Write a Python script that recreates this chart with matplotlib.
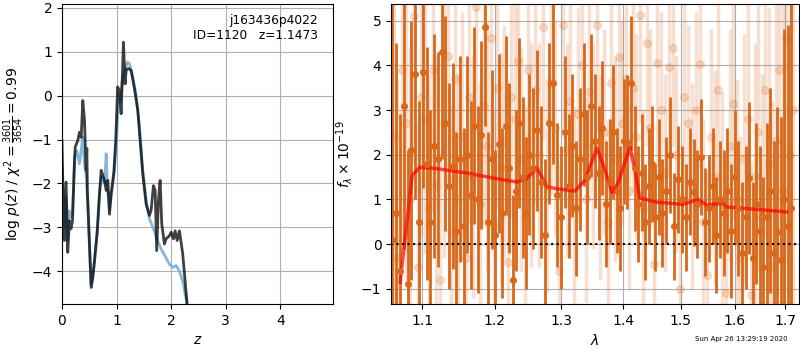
import numpy as np
import matplotlib
matplotlib.use('Agg')
import matplotlib.pyplot as plt
from matplotlib.ticker import FixedLocator, FixedFormatter, NullLocator

# redshift probability (left panel)
z_fit = [0.0, 0.005, 0.045, 0.075, 0.105, 0.137, 0.167, 0.192, 0.23, 0.242, 0.29, 0.32, 0.352,
         0.381, 0.412, 0.443, 0.455, 0.466, 0.535, 0.565, 0.596, 0.645, 0.687, 0.718, 0.778,
         0.81, 0.84, 0.87, 0.9, 0.95, 0.985, 1.02, 1.05, 1.084, 1.126, 1.157, 1.176, 1.218,
         1.267, 1.328, 1.389, 1.48, 1.542, 1.603, 1.634, 1.676, 1.707, 1.736, 1.767, 1.798,
         1.828, 1.877, 1.908, 1.969, 2.0, 2.042, 2.073, 2.11, 2.152, 2.212, 2.293, 2.32]
logp_fit = [-1.02, -1.48, -3.3, -1.97, -3.57, -2.85, -3.03, -2.85, -1.48, -1.17, -1.02, -0.83, -0.95,
            -0.11, -0.56, -1.7, -1.2, -2.2, -4.37, -4.14, -3.76, -3.11, -2.24, -1.7, -1.93,
            -2.16, -1.93, -2.7, -2.24, -1.75, -1.0, 0.2, 0.12, -0.41, 1.22, 0.27, 0.58, 0.62,
            0.58, 0.16, -0.34, -1.78, -2.47, -2.73, -2.6, -2.05, -2.16, -3.53, -2.39, -1.93,
            -2.92, -3.38, -3.26, -3.19, -3.11, -3.26, -3.08, -3.3, -3.08, -3.6, -4.75, -5.3]

z_prior = [0.0, 0.03, 0.07, 0.1, 0.13, 0.16, 0.19, 0.23, 0.27, 0.32, 0.38, 0.41, 0.44, 0.47,
           0.53, 0.56, 0.6, 0.65, 0.69, 0.72, 0.78, 0.81, 0.83, 0.87, 0.9, 0.96, 1.0, 1.03,
           1.07, 1.1, 1.15, 1.2, 1.24, 1.3, 1.36, 1.42, 1.48, 1.55, 1.6, 1.65, 1.7, 1.75,
           1.82, 1.97, 2.03, 2.09, 2.15, 2.21, 2.28, 2.31]
logp_prior = [-1.3, -3.0, -2.3, -3.3, -2.62, -2.77, -2.7, -1.4, -1.25, -1.55, -0.95, -1.55, -1.8, -2.4,
              -4.3, -4.15, -3.7, -3.0, -2.2, -1.85, -2.0, -1.32, -2.1, -2.6, -2.3, -1.7, -1.0, -0.2,
              -0.1, 0.3, 0.55, 0.77, 0.72, 0.4, 0.0, -0.7, -1.7, -2.45, -2.8, -2.95, -3.11, -3.3,
              -3.5, -3.84, -3.91, -3.87, -3.99, -4.22, -4.67, -5.2]

# 1D spectrum (right panel), flux in 1e-19
wave_a = [1.061, 1.066, 1.071, 1.076, 1.081, 1.086, 1.091, 1.096, 1.101, 1.106,
          1.111, 1.116, 1.121, 1.126, 1.131, 1.136, 1.141, 1.146, 1.151, 1.156,
          1.161, 1.166, 1.171, 1.176, 1.181, 1.186, 1.191, 1.196, 1.201, 1.206,
          1.211, 1.216, 1.221, 1.226, 1.231, 1.236, 1.241, 1.246, 1.251, 1.257,
          1.263, 1.269, 1.275, 1.281, 1.287, 1.293, 1.299, 1.305, 1.311, 1.317,
          1.323, 1.329, 1.335, 1.341, 1.347, 1.353, 1.359, 1.365, 1.371, 1.377,
          1.383, 1.389, 1.395, 1.401, 1.407, 1.413, 1.419, 1.425, 1.431, 1.437,
          1.443, 1.449, 1.455, 1.461, 1.467, 1.474, 1.481, 1.488, 1.495, 1.502,
          1.509, 1.516, 1.523, 1.530, 1.537, 1.544, 1.551, 1.558, 1.565, 1.572,
          1.579, 1.586, 1.593, 1.600, 1.607, 1.614, 1.621, 1.628, 1.635, 1.642,
          1.649, 1.656, 1.663, 1.670, 1.677, 1.684, 1.691, 1.698, 1.705, 1.712]
flux_a = [0.1, 0.7, -0.6, 3.1, -0.9, 2.1, 3.8, 0.5, 3.85, 1.8,
          0.5, 2.2, 1.9, 4.3, 2.7, 1.3, 1.75, 0.3, 1.9, 0.4,
          2.0, 1.1, 2.65, 1.0, 2.45, 4.85, 0.5, 1.9, 0.2, 2.25,
          0.7, 2.65, 1.7, -0.8, 1.2, 2.7, 1.5, 0.7, 2.0, 1.7,
          2.55, 1.4, 0.2, 2.7, 3.6, 1.1, 0.6, 2.5, 1.3, 2.2,
          0.8, 1.9, 2.9, 1.5, 3.1, 2.3, 1.6, 2.6, 0.9, 1.4,
          2.5, 1.2, 0.8, 2.3, 2.28, 3.6, 1.7, 0.9, 1.6, 0.5,
          1.3, 1.8, 0.6, 1.5, 0.7, 1.2, 2.0, 0.4, 1.45, 1.0,
          0.6, 1.4, 1.16, 0.9, 1.95, 0.5, 0.8, 1.3, 0.2, 1.0,
          0.7, 1.2, 0.3, 1.5, 0.8, -0.2, 0.6, 1.48, -0.3, 0.9,
          0.3, -0.5, 0.6, 1.2, -0.2, 0.27, -0.36, 1.0, 0.4, 0.8]
err_a = [5.5, 3.8, 3.5, 3.2, 3.0, 2.9, 2.8, 2.7, 2.6, 2.6,
         2.5, 2.5, 2.4, 2.4, 2.4, 2.3, 2.3, 2.2, 2.3, 2.2,
         2.2, 2.1, 2.2, 2.1, 2.1, 2.2, 2.0, 2.0, 1.9, 2.0,
         1.9, 2.0, 1.9, 1.9, 1.8, 1.9, 1.8, 1.7, 1.8, 1.8,
         1.8, 1.7, 1.7, 1.8, 1.8, 1.6, 1.6, 1.7, 1.6, 1.6,
         1.5, 1.6, 1.6, 1.5, 1.6, 1.5, 1.5, 1.5, 1.4, 1.4,
         1.5, 1.4, 1.4, 1.4, 1.5, 1.5, 1.4, 1.3, 1.3, 1.3,
         1.3, 1.3, 1.2, 1.3, 1.2, 1.2, 1.3, 1.2, 1.2, 1.2,
         1.2, 1.2, 1.2, 1.2, 1.3, 1.2, 1.2, 1.3, 1.3, 1.3,
         1.4, 1.4, 1.5, 1.5, 1.5, 1.6, 1.6, 1.7, 1.7, 1.8,
         1.9, 2.0, 2.1, 2.3, 2.5, 2.8, 3.2, 3.8, 4.5, 5.5]

wave_b = [1.063, 1.068, 1.074, 1.079, 1.084, 1.089, 1.094, 1.099, 1.104, 1.109,
          1.114, 1.119, 1.124, 1.129, 1.134, 1.139, 1.144, 1.149, 1.154, 1.159,
          1.164, 1.169, 1.174, 1.179, 1.184, 1.189, 1.194, 1.199, 1.204, 1.209,
          1.214, 1.219, 1.224, 1.229, 1.234, 1.239, 1.244, 1.249, 1.254, 1.260,
          1.266, 1.272, 1.278, 1.284, 1.290, 1.296, 1.302, 1.308, 1.314, 1.320,
          1.326, 1.332, 1.338, 1.344, 1.350, 1.356, 1.362, 1.368, 1.374, 1.380,
          1.386, 1.392, 1.398, 1.404, 1.410, 1.416, 1.422, 1.428, 1.434, 1.440,
          1.446, 1.452, 1.458, 1.464, 1.471, 1.478, 1.485, 1.492, 1.499, 1.506,
          1.513, 1.520, 1.527, 1.534, 1.541, 1.548, 1.555, 1.562, 1.569, 1.576,
          1.583, 1.590, 1.597, 1.604, 1.611, 1.618, 1.625, 1.632, 1.639, 1.646,
          1.653, 1.660, 1.667, 1.674, 1.681, 1.688, 1.695, 1.702, 1.709, 1.716]
flux_b = [2.4, -0.3, 3.9, 2.7, 1.0, 5.1, -0.5, 3.3, 2.8, 0.8,
          3.9, 1.3, -0.8, 2.7, 4.2, 0.3, 3.7, 1.0, 2.4, -0.3,
          3.3, 1.5, 5.3, 0.9, 3.1, 2.2, 4.6, 0.4, 3.5, 1.7,
          2.3, -0.4, 3.3, 2.8, 4.1, 1.9, 0.6, 3.9, 2.0, 3.45,
          2.0, 4.85, 1.3, 3.6, 2.6, -0.6, 4.9, 2.1, 3.2, 0.8,
          2.9, 4.0, 1.0, 3.4, 2.2, 4.9, 1.5, 2.5, 0.5, 3.6,
          1.9, 4.18, 2.7, 3.7, 1.2, 3.5, 2.4, 5.12, 0.8, 4.5,
          2.6, -0.45, 4.05, 3.0, 1.6, 3.96, 4.38, 2.0, -1.0, 3.3,
          2.7, 1.3, 3.0, 4.03, 0.5, -0.69, 2.4, 1.5, 3.44, 0.9,
          -1.1, 2.2, 3.13, 1.0, -0.3, 1.9, 2.8, -1.14, 1.5, 2.5,
          0.6, 3.44, 1.8, -0.5, 2.3, 3.9, 1.2, 4.6, 2.0, 3.0]
err_b = [4.5, 4.0, 3.8, 3.6, 3.4, 3.3, 3.2, 3.1, 3.0, 3.0,
         3.0, 2.9, 2.9, 3.0, 2.9, 2.8, 2.9, 2.8, 2.8, 2.8,
         2.8, 2.7, 2.8, 2.7, 2.7, 2.8, 2.7, 2.6, 2.7, 2.6,
         2.6, 2.6, 2.7, 2.6, 2.6, 2.5, 2.5, 2.6, 2.5, 2.5,
         2.5, 2.5, 2.4, 2.5, 2.4, 2.4, 2.5, 2.4, 2.4, 2.3,
         2.4, 2.4, 2.3, 2.4, 2.3, 2.4, 2.3, 2.3, 2.3, 2.4,
         2.3, 2.3, 2.3, 2.3, 2.2, 2.3, 2.3, 2.4, 2.2, 2.3,
         2.2, 2.2, 2.3, 2.2, 2.2, 2.3, 2.2, 2.2, 2.2, 2.2,
         2.2, 2.3, 2.2, 2.3, 2.3, 2.3, 2.4, 2.4, 2.4, 2.5,
         2.5, 2.6, 2.6, 2.7, 2.7, 2.8, 2.9, 3.0, 3.0, 3.1,
         3.2, 3.3, 3.5, 3.7, 3.9, 4.2, 4.6, 5.0, 5.5, 6.0]

# best-fit model
wave_model = [1.0714, 1.087, 1.097, 1.1146, 1.161, 1.208, 1.2326, 1.247, 1.2625, 1.2777,
              1.2977, 1.321, 1.337, 1.3565, 1.3695, 1.381, 1.391, 1.411, 1.4197, 1.428,
              1.4576, 1.5037, 1.531, 1.5476, 1.5755, 1.585, 1.643, 1.703]
flux_model = [-0.85, 1.54, 1.72, 1.70, 1.59, 1.45, 1.39, 1.47, 1.70, 1.28,
              1.23, 1.19, 1.43, 2.15, 1.66, 1.16, 1.36, 2.17, 1.66, 1.03,
              0.94, 0.89, 1.0, 0.87, 0.92, 0.83, 0.78, 0.72]

wave_ticks = [1.1, 1.2, 1.3, 1.4, 1.5, 1.6, 1.7]
orange = '#d9681a'

fig = plt.figure(figsize=(8, 3.5), dpi=100)
ax1 = fig.add_axes([0.0775, 0.131, 0.339, 0.8576])
ax2 = fig.add_axes([0.489, 0.131, 0.5097, 0.8576])

# left: p(z)
ax1.plot(z_prior, logp_prior, color='#7aaed6', alpha=0.9, lw=2)
ax1.plot(z_fit, logp_fit, color='k', alpha=0.75, lw=2)
ax1.set_xlim(0, 4.97)
ax1.set_ylim(-4.75, 2.09)
ax1.set_xticks([0, 1, 2, 3, 4])
ax1.set_yticks([-4, -3, -2, -1, 0, 1, 2])
ax1.grid()
ax1.set_xlabel('$z$')
ax1.set_ylabel(r'log $p(z)$ / $\chi^2=\frac{3601}{3654}=0.99$')
ax1.text(0.945, 0.967, 'j163436p4022\nID=1120   z=1.1473', transform=ax1.transAxes,
         ha='right', va='top', fontsize=8.8)

# right: spectrum
ax2.errorbar(wave_b, flux_b, yerr=err_b, color=orange, alpha=0.2, marker='o', ms=5.5,
             linestyle='None', elinewidth=2.5)
ax2.errorbar(wave_a, flux_a, yerr=err_a, color=orange, alpha=1.0, marker='o', ms=4,
             linestyle='None', elinewidth=2)
ax2.plot(wave_model, flux_model, color='r', alpha=0.7, lw=2.5)
ax2.axhline(0, color='k', ls=':', lw=1.5)
ax2.set_xscale('log')
ax2.set_xlim(1.060, 1.728)
ax2.set_ylim(-1.34, 5.37)
ax2.xaxis.set_major_locator(FixedLocator(wave_ticks))
ax2.xaxis.set_major_formatter(FixedFormatter(['%.1f' % w for w in wave_ticks]))
ax2.xaxis.set_minor_locator(NullLocator())
ax2.set_yticks([-1, 0, 1, 2, 3, 4, 5])
ax2.grid()
ax2.set_xlabel(r'$\lambda$')
ax2.set_ylabel(r'$f_\lambda \times 10^{-19}$')

fig.text(0.985, 0.031, 'Sun Apr 26 13:29:19 2020', ha='right', va='center', fontsize=5)

fig.savefig('out.png', dpi=100)
